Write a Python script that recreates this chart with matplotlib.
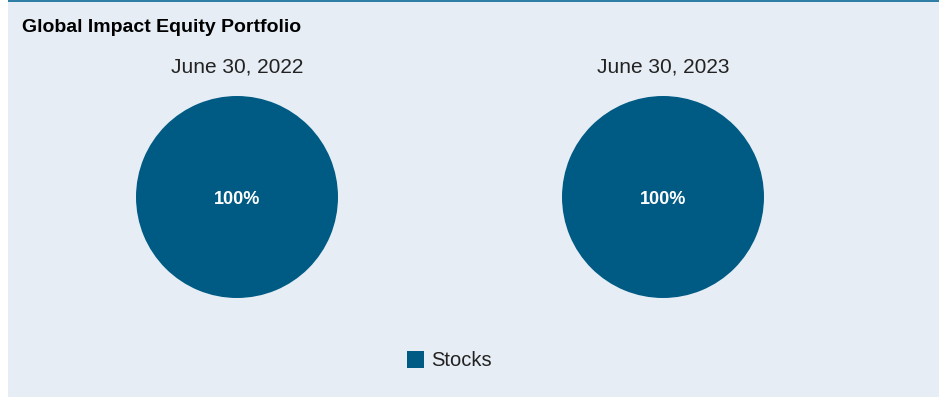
import matplotlib.pyplot as plt
from matplotlib.patches import Rectangle

plt.rcParams['font.family'] = ['Liberation Sans', 'DejaVu Sans']

# data
title = "Global Impact Equity Portfolio"
dates = ["June 30, 2022", "June 30, 2023"]
categories = ["Stocks"]
values_2022 = [100]
values_2023 = [100]
colors = ["#005b84"]

W, H = 942, 397
fig = plt.figure(figsize=(W / 100, H / 100), dpi=100)
fig.patch.set_facecolor("white")

# panel background + top line
fig.patches.append(Rectangle((8 / W, 0), (939 - 8) / W, 1, transform=fig.transFigure,
                             facecolor="#e6edf5", edgecolor="none", zorder=-2))
fig.patches.append(Rectangle((8 / W, 1 - 2 / H), (939 - 8) / W, 2 / H, transform=fig.transFigure,
                             facecolor="#2f7ea6", edgecolor="none", zorder=-1))

fig.text(22 / W, 1 - 27 / H, title, fontsize=14, fontweight="bold", va="center", ha="left")

centers = [237, 663]
r = 101
for cx, d, vals in zip(centers, dates, [values_2022, values_2023]):
    ax = fig.add_axes([(cx - r) / W, 1 - (197 + r) / H, 2 * r / W, 2 * r / H])
    ax.pie(vals, colors=colors, radius=1, startangle=90, counterclock=False,
           wedgeprops=dict(linewidth=0))
    ax.set_xlim(-1, 1)
    ax.set_ylim(-1, 1)
    ax.set_aspect("equal")
    ax.axis("off")
    ax.text(0, -0.02, f"{vals[0]}%", color="white", fontsize=13, fontweight="bold",
            ha="center", va="center")
    fig.text(cx / W, 1 - 67 / H, d, fontsize=15, ha="center", va="center", color="#222222")

# legend
fig.patches.append(Rectangle((407 / W, 1 - 368 / H), 17 / W, 17 / H, transform=fig.transFigure,
                             facecolor=colors[0], edgecolor="none", zorder=2))
fig.text(431 / W, 1 - 360 / H, categories[0], fontsize=14.5, ha="left", va="center", color="#222222")

fig.savefig("out.png", dpi=100)
